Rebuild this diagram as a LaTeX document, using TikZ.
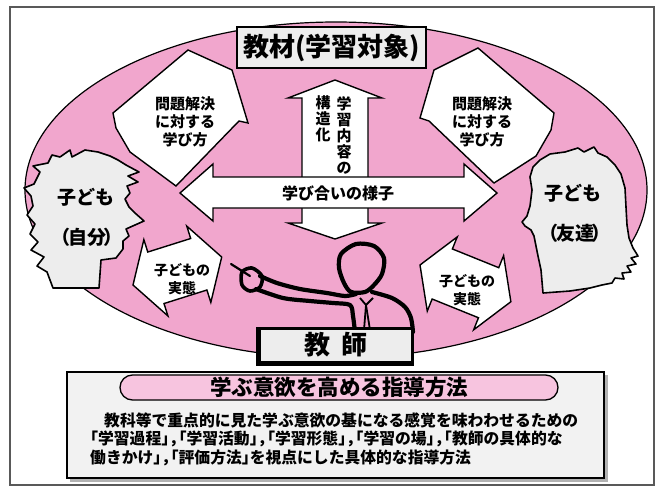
\documentclass[tikz,border=0pt]{standalone}
\usepackage{fontspec}
\setmainfont{Noto Sans CJK JP}
\definecolor{ovalpink}{RGB}{241,166,205}
\definecolor{pillpink}{RGB}{247,196,223}
\definecolor{paper}{RGB}{237,237,237}
\definecolor{boxgray}{RGB}{242,242,242}
\newcommand\fs[2]{\fontsize{#1}{#2}\selectfont\bfseries}
% half-width brackets and comma for the method list
\newcommand\lbk{\makebox[0.5em][r]{「}}
\newcommand\rbk{\makebox[0.5em][l]{」}}
\newcommand\cma{\makebox[0.6em][l]{，}}
\begin{document}
\begin{tikzpicture}[x=1pt,y=-1pt,
  blockarrow/.style={draw=black,fill=white,line width=1.4pt,line join=miter},
  headshape/.style={draw=black,fill=paper,line width=1.6pt,line join=round},
  teacher/.style={draw=black,line width=4.2pt,line cap=round,line join=round},
  labelbox/.style={draw=black,fill=paper,line width=1.6pt,inner sep=0pt},
  lbl/.style={align=center,inner sep=0pt}]

\useasboundingbox (0,0) rectangle (658,490);
\fill[white] (0,0) rectangle (658,490);
\draw[gray!70!black, line width=1.2pt] (10,7) rectangle (654,485);

% pink field
\filldraw[fill=ovalpink, draw=black, line width=1.2pt] (336,190) ellipse [x radius=311pt, y radius=168pt];

% subject matter label
\node[labelbox, minimum width=189pt, minimum height=41pt, font=\fs{26}{26}] (mat) at (331.5,47.5) {教材(学習対象)};

% upper left and upper right arrows
\draw[blockarrow] (188,50) -- (232,70) -- (248,123) -- (239,121) -- (176,186) -- (130,152) -- (116,128) -- (113,113) -- cycle;
\draw[blockarrow] (478,48) -- (434,70) -- (420,118) -- (429,121) -- (494,183) -- (536,156) -- (551,130) -- (554,113) -- cycle;
\node[lbl, font=\fs{15}{18}] (ul) at (185,122) {問題解決\\に対する\\学び方};
\node[lbl, font=\fs{15}{18}] (ur) at (482,122) {問題解決\\に対する\\学び方};

% vertical double arrow
\draw[blockarrow] (335,80) -- (382,98) -- (368,98) -- (368,223) -- (382,223) -- (335,239) -- (288,223) -- (302,223) -- (302,98) -- (288,98) -- cycle;
\node[lbl, font=\fs{15}{16}] (vr) at (344,135) {学\\習\\内\\容\\の};
\node[lbl, font=\fs{15}{16}] (vl) at (323,119) {構\\造\\化};

% horizontal double arrow
\draw[blockarrow] (180,193) -- (213,164) -- (213,177) -- (464,177) -- (464,164) -- (497,193) -- (464,221) -- (464,208) -- (213,208) -- (213,221) -- cycle;
\node[lbl, font=\fs{16}{16}] (mid) at (338,193) {学び合いの様子};

% lower arrows
\begin{scope}[shift={(133,285)},rotate=17.5]
\draw[blockarrow] (0,0) -- (24,40) -- (24,27) -- (69,27) -- (69,40) -- (93,0) -- (69,-40) -- (69,-27) -- (24,-27) -- (24,-40) -- cycle;
\end{scope}
\begin{scope}[shift={(420,265)},rotate=-22]
\draw[blockarrow] (0,0) -- (24,40) -- (24,27) -- (74,27) -- (74,40) -- (98,0) -- (74,-40) -- (74,-27) -- (24,-27) -- (24,-40) -- cycle;
\end{scope}
\node[lbl, font=\fs{14}{18}] (ll) at (182,279) {子どもの\\実態};
\node[lbl, font=\fs{14}{18}] (lr) at (467,290) {子どもの\\実態};

% child (self), facing right
\draw[headshape] (53,288) -- (47,272) -- (37,266) -- (44,257) -- (31,250) -- (38,242) -- (30,234) -- (35,224) -- (27,215) -- (33,206) -- (31,196) -- (24,188) -- (34,184) -- (40,172) -- (33,166) -- (48,163) -- (52,155) -- (60,157) -- (70,150) -- (72,157) -- (85,150) -- (98,152) -- (110,156) -- (118,160) -- (126,165) -- (139,172) -- (128,176) -- (138,182) -- (127,186) -- (130,193) -- (125,199) -- (129,207) -- (135,213) -- (144,221) -- (135,225) -- (126,229) -- (129,236) -- (123,241) -- (123,249) -- (116,258) -- (101,260) -- (99,288) -- cycle;
\node[lbl, font=\fs{19}{19}] (selfa) at (86,197) {子ども};
\node[lbl, font=\fs{19}{19}] (selfb) at (87,237) {（\kern-0.15em 自分\kern-0.15em ）};

% child (friend), facing left
\draw[headshape] (540,160) -- (550,154) -- (565,152) -- (578,148) -- (584,152) -- (594,147) -- (598,153) -- (607,157) -- (615,165) -- (621,174) -- (625,188) -- (626,207) -- (627,225) -- (629,238) -- (633,248) -- (638,256) -- (631,258) -- (636,264) -- (627,266) -- (631,272) -- (622,273) -- (624,279) -- (615,278) -- (612,283) -- (602,285) -- (590,288) -- (570,291) -- (543,293) -- (541,270) -- (538,256) -- (536,246) -- (534,236) -- (531,230) -- (525,226) -- (522,222) -- (527,216) -- (530,206) -- (532,190) -- (530,177) -- (533,167) -- cycle;
\node[lbl, font=\fs{19}{19}] (frda) at (573,193) {子ども};
\node[lbl, font=\fs{19}{19}] (frdb) at (575,233) {（\kern-0.15em 友達\kern-0.15em ）};

% teacher silhouette
\draw[teacher] plot[smooth cycle] coordinates {(341,254) (356,244) (374,246) (384,258) (382,274) (374,285) (365,292) (351,292) (344,283) (339,268)};
\draw[teacher] plot[smooth] coordinates {(260,276) (277,283) (300,289) (327,293) (345,296) (356,294)};
\draw[teacher] plot[smooth] coordinates {(372,292) (392,298) (405,307) (411,318) (413,332)};
\draw[teacher] plot[smooth] coordinates {(256,289) (283,298) (310,301) (333,303) (350,305) (353,316) (355,332)};
\draw[teacher, line width=3.6pt] plot[smooth cycle] coordinates {(242,272) (252,268) (262,276) (260,287) (250,291) (242,285)};
\draw[line width=2.2pt, line cap=round] (231,264) -- (250,276);
\draw[line width=1.8pt] (360,298) -- (366,305) -- (373,298);
\draw[line width=1.8pt] (366,305) -- (364,330);
\draw[line width=1.8pt] (366,305) -- (370,330);

% teacher plate
\fill[black] (256,327) rectangle (414,366);
\node[fill=paper, minimum width=150pt, minimum height=31pt, inner sep=0pt, font=\fs{26}{26}] (tch) at (336,345) {教\hspace{0.45em}師};

% guidance box
\fill[gray!60] (70,375) rectangle (608,482);
\draw[fill=boxgray, line width=1.2pt] (67,372) rectangle (604,478);
\node[draw=black, fill=pillpink, rounded corners=12.5pt, minimum width=438pt, minimum height=25pt, line width=1.3pt, inner sep=0pt, font=\fs{21.5}{21.5}] (title) at (339,387.5) {学ぶ意欲を高める指導方法};
\node[anchor=west, inner sep=0pt, font=\fs{15.8}{19}] (l1) at (104,420) {教科等で重点的に見た学ぶ意欲の基になる感覚を味わわせるための};
\node[anchor=west, inner sep=0pt, font=\fs{15.8}{19}] (l2) at (90,439) {\lbk 学習過程\rbk\cma\lbk 学習活動\rbk\cma\lbk 学習形態\rbk\cma\lbk 学習の場\rbk\cma\lbk 教師の具体的な};
\node[anchor=west, inner sep=0pt, font=\fs{15.8}{19}] (l3) at (90,458) {働きかけ\rbk\cma\lbk 評価方法\rbk を視点にした具体的な指導方法};
\end{tikzpicture}
\end{document}
